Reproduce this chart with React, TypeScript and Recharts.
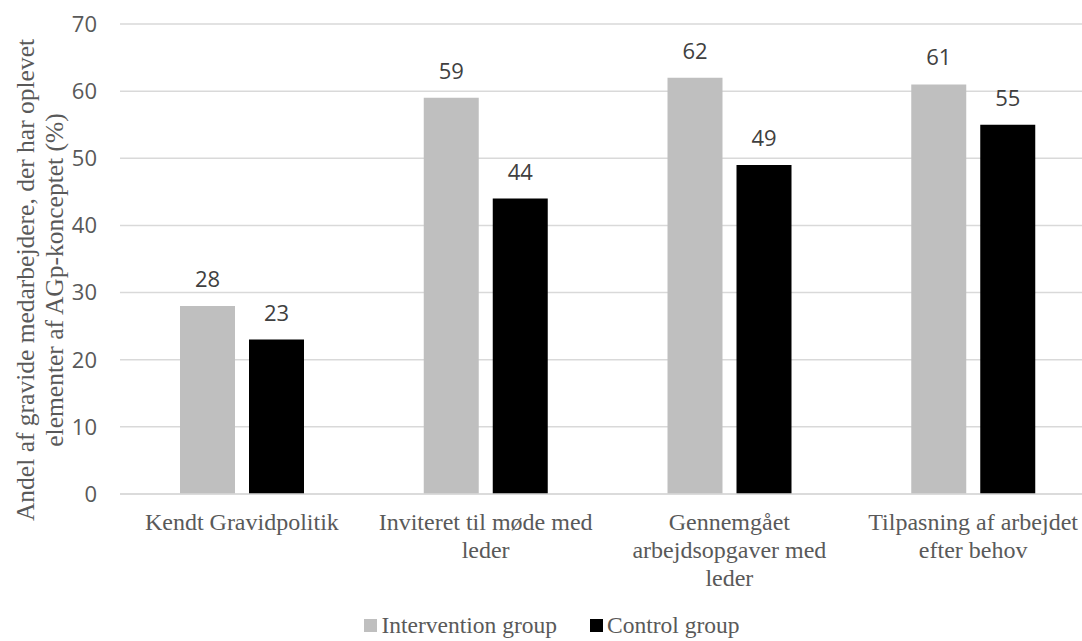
import React from 'react';
import { BarChart, Bar, XAxis, YAxis, CartesianGrid, Legend, LabelList } from 'recharts';

// categories (line breaks where the label wraps)
const categories = [
  'Kendt Gravidpolitik',
  'Inviteret til møde med\nleder',
  'Gennemgået\narbejdsopgaver med\nleder',
  'Tilpasning af arbejdet\nefter behov',
];
const interventionValues = [28, 59, 62, 61];
const controlValues = [23, 44, 49, 55];
const yTicks = [0, 10, 20, 30, 40, 50, 60, 70];
const yTitleLines = ['Andel af gravide medarbejdere, der har oplevet', 'elementer af AGp-konceptet (%)'];
const seriesNames = ['Intervention group', 'Control group'];
const seriesColors = ['#bfbfbf', '#000000'];

const data = categories.map((name, i) => ({
  name,
  intervention: interventionValues[i],
  control: controlValues[i],
}));

const SANS = '"Open Sans", Calibri, sans-serif';
const SERIF = '"Liberation Serif", "Times New Roman", serif';
const TEXT = '#595959';

const CategoryTick = ({ x, y, payload }: any) => {
  const lines = String(payload.value).split('\n');
  return (
    <g transform={`translate(${x},${y})`}>
      {lines.map((line, i) => (
        <text
          key={i}
          x={0}
          y={36 + i * 28}
          textAnchor="middle"
          fontFamily={SERIF}
          fontSize={24}
          fill={TEXT}
        >
          {line}
        </text>
      ))}
    </g>
  );
};

const YTitle = () => (
  <g>
    {yTitleLines.map((line, i) => (
      <text
        key={i}
        transform={`translate(${34 + i * 29},280) rotate(-90)`}
        textAnchor="middle"
        fontFamily={SERIF}
        fontSize={25.5}
        fill={TEXT}
      >
        {line}
      </text>
    ))}
  </g>
);

const LegendBox = () => (
  <div
    style={{
      height: 32,
      display: 'flex',
      justifyContent: 'center',
      alignItems: 'center',
      fontFamily: SERIF,
      fontSize: 23.5,
      color: TEXT,
      paddingLeft: 22,
    }}
  >
    {seriesNames.map((name, i) => (
      <span key={name} style={{ display: 'flex', alignItems: 'center', marginRight: i === 0 ? 33 : 0 }}>
        <span style={{ width: 13, height: 13, background: seriesColors[i], marginRight: 4, display: 'inline-block' }} />
        {name}
      </span>
    ))}
  </div>
);

export default function App() {
  return (
    <div style={{ position: 'absolute', left: 0, top: 0, width: 1082, height: 641, overflow: 'hidden', background: '#fff' }}>
      <BarChart
        width={1100}
        height={641}
        data={data}
        margin={{ top: 24, right: 5, left: 0, bottom: 0 }}
        barCategoryGap="24.6%"
        barGap={14}
      >
        <CartesianGrid vertical={false} stroke="#d9d9d9" strokeWidth={1.5} />
        <XAxis
          dataKey="name"
          interval={0}
          height={115}
          tickLine={false}
          tickSize={0}
          tickMargin={0}
          axisLine={{ stroke: '#d9d9d9', strokeWidth: 1.5 }}
          tick={<CategoryTick />}
        />
        <YAxis
          width={120}
          domain={[0, 70]}
          ticks={yTicks}
          axisLine={false}
          tickLine={false}
          tickSize={0}
          tickMargin={23}
          tick={{ fontFamily: SANS, fontSize: 22, fill: TEXT }}
        />
        <Legend
          verticalAlign="bottom"
          content={<LegendBox />}
          wrapperStyle={{ bottom: 0, left: 0, width: 1082, height: 32 }}
        />
        <Bar dataKey="intervention" name={seriesNames[0]} fill={seriesColors[0]} barSize={55} isAnimationActive={false}>
          <LabelList dataKey="intervention" position="top" offset={19} fontFamily={SANS} fontSize={22} fill="#404040" />
        </Bar>
        <Bar dataKey="control" name={seriesNames[1]} fill={seriesColors[1]} barSize={55} isAnimationActive={false}>
          <LabelList dataKey="control" position="top" offset={19} fontFamily={SANS} fontSize={22} fill="#404040" />
        </Bar>
        <YTitle />
      </BarChart>
    </div>
  );
}
